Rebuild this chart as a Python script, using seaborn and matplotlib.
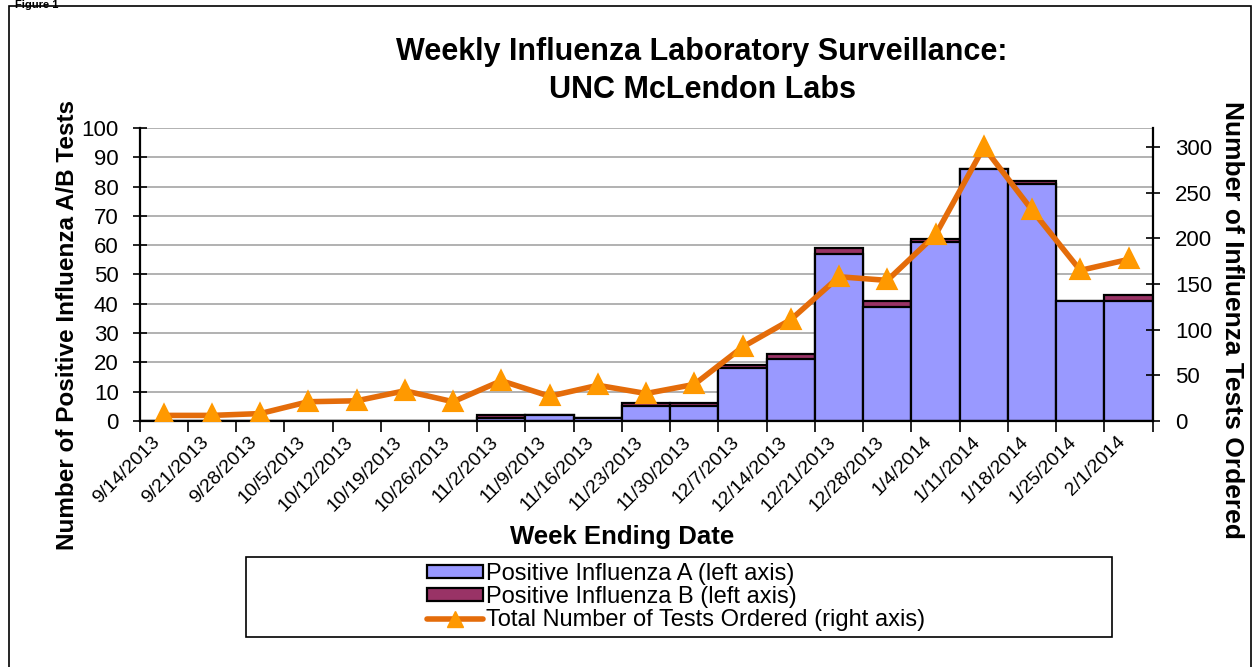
import numpy as np
import pandas as pd
import matplotlib
matplotlib.use("Agg")
import matplotlib.pyplot as plt
from matplotlib.patches import Patch, Rectangle
from matplotlib.lines import Line2D
import seaborn as sns

# Data
weeks = ["9/14/2013", "9/21/2013", "9/28/2013", "10/5/2013", "10/12/2013",
         "10/19/2013", "10/26/2013", "11/2/2013", "11/9/2013", "11/16/2013",
         "11/23/2013", "11/30/2013", "12/7/2013", "12/14/2013", "12/21/2013",
         "12/28/2013", "1/4/2014", "1/11/2014", "1/18/2014", "1/25/2014",
         "2/1/2014"]
flu_a = [0, 0, 0, 0, 0, 0, 0, 1, 2, 1, 5, 5, 18, 21, 57, 39, 61, 86, 81, 41, 41]
flu_b = [0, 0, 0, 0, 0, 0, 0, 1, 0, 0, 1, 1, 1, 2, 2, 2, 1, 0, 1, 0, 2]
tests = [6, 6, 8, 21, 22, 33, 21, 44, 27, 39, 30, 40, 81, 111, 158, 154,
         204, 300, 231, 165, 177]

left_ticks = list(range(0, 101, 10))
right_ticks = list(range(0, 301, 50))

col_a = "#9999FF"
col_b = "#993366"
col_line = "#E46C0A"
col_marker = "#FF9900"

df = pd.DataFrame({"week": weeks, "A": flu_a, "B": flu_b, "tests": tests})
df["total"] = df["A"] + df["B"]

sns.set_style("white")
plt.rcParams["font.family"] = ["Liberation Sans", "DejaVu Sans"]
plt.rcParams["text.color"] = "black"
plt.rcParams["xtick.color"] = "black"
plt.rcParams["ytick.color"] = "black"

fig = plt.figure(figsize=(12.57, 6.67), dpi=100)
ax = fig.add_axes([0.111, 0.369, 0.806, 0.439])

# stacked bars: total (B colour) underneath, A drawn over it
sns.barplot(data=df, x="week", y="total", color=col_b, width=1.0, saturation=1,
            edgecolor="black", linewidth=1.6, ax=ax, zorder=2)
sns.barplot(data=df, x="week", y="A", color=col_a, width=1.0, saturation=1,
            edgecolor="black", linewidth=1.6, ax=ax, zorder=2)

ax2 = ax.twinx()
sns.pointplot(data=df, x="week", y="tests", ax=ax2, color=col_line,
              markers="^", markersize=11, linewidth=4, errorbar=None)
for ln in ax2.lines:
    ln.set_markerfacecolor(col_marker)
    ln.set_markeredgecolor(col_marker)
    ln.set_zorder(5)

ax.set_ylim(0, 100)
ax2.set_ylim(0, 321)
ax.set_xlim(-0.5, len(weeks) - 0.5)
ax2.set_xlim(-0.5, len(weeks) - 0.5)

ax.yaxis.grid(True, color="#ababab", linewidth=1.3)
ax.set_axisbelow(True)

ax.set_yticks(left_ticks)
ax.set_yticklabels([str(t) for t in left_ticks], fontsize=16)
ax2.set_yticks(right_ticks)
ax2.set_yticklabels([str(t) for t in right_ticks], fontsize=16)

ax.set_xticks(range(len(weeks)))
ax.set_xticklabels(weeks, rotation=45, ha="right", fontsize=14)
ax.set_xticks(np.arange(-0.5, len(weeks)), minor=True)
ax.tick_params(axis="x", which="major", length=0, pad=9)
ax.tick_params(axis="x", which="minor", bottom=True, length=8, width=1.2,
               color="black", direction="out")
ax.tick_params(axis="y", left=True, length=10, width=1.2, color="black",
               direction="inout", pad=10)
ax2.tick_params(axis="y", right=True, length=10, width=1.2, color="black",
                direction="inout", pad=11)
ax2.xaxis.set_visible(False)

ax.set_xlabel("")
ax.set_ylabel("")
ax2.set_ylabel("")

for s in ["top", "right"]:
    ax.spines[s].set_visible(False)
for s in ["top", "left", "bottom"]:
    ax2.spines[s].set_visible(False)
for sp in [ax.spines["left"], ax.spines["bottom"], ax2.spines["right"]]:
    sp.set_color("black")
    sp.set_linewidth(1.6)

# texts
fig.text(702 / 1257, 1 - 71 / 667,
         "Weekly Influenza Laboratory Surveillance:\nUNC McLendon Labs",
         ha="center", va="center", fontsize=22, fontweight="bold", linespacing=1.35)
fig.text(622 / 1257, 1 - 537 / 667, "Week Ending Date", ha="center",
         va="center", fontsize=18.5, fontweight="bold")
fig.text(68 / 1257, 1 - 325 / 667, "Number of Positive Influenza A/B Tests",
         rotation=90, ha="center", va="center", fontsize=17.5, fontweight="bold")
fig.text(1232 / 1257, 1 - 320 / 667, "Number of Influenza Tests Ordered",
         rotation=-90, ha="center", va="center", fontsize=19, fontweight="bold")
fig.text(0.012, 1.0, "Figure 1", ha="left", va="top",
         fontsize=8, fontweight="bold")

# outer border and legend box
fig.add_artist(Rectangle((9 / 1257, -0.02), 1242 / 1257, 1 - 6 / 667 + 0.02,
                         transform=fig.transFigure, fill=False,
                         edgecolor="black", linewidth=1.2))
fig.add_artist(Rectangle((246 / 1257, 1 - 637 / 667), 866 / 1257, 80 / 667,
                         transform=fig.transFigure, fill=False,
                         edgecolor="black", linewidth=1.2))

handles = [
    Patch(facecolor=col_a, edgecolor="black", linewidth=1.6),
    Patch(facecolor=col_b, edgecolor="black", linewidth=1.6),
    Line2D([], [], color=col_line, linewidth=4, marker="^", markersize=11,
           markerfacecolor=col_marker, markeredgecolor=col_marker),
]
labels = ["Positive Influenza A (left axis)", "Positive Influenza B (left axis)",
          "Total Number of Tests Ordered (right axis)"]
fig.legend(handles, labels, loc="center", bbox_to_anchor=(676 / 1257, 1 - 597 / 667),
           frameon=False, fontsize=17, handlelength=2.4, handleheight=0.5,
           handletextpad=0.12, labelspacing=0.05, borderpad=0)

fig.savefig("out.png", dpi=100)
